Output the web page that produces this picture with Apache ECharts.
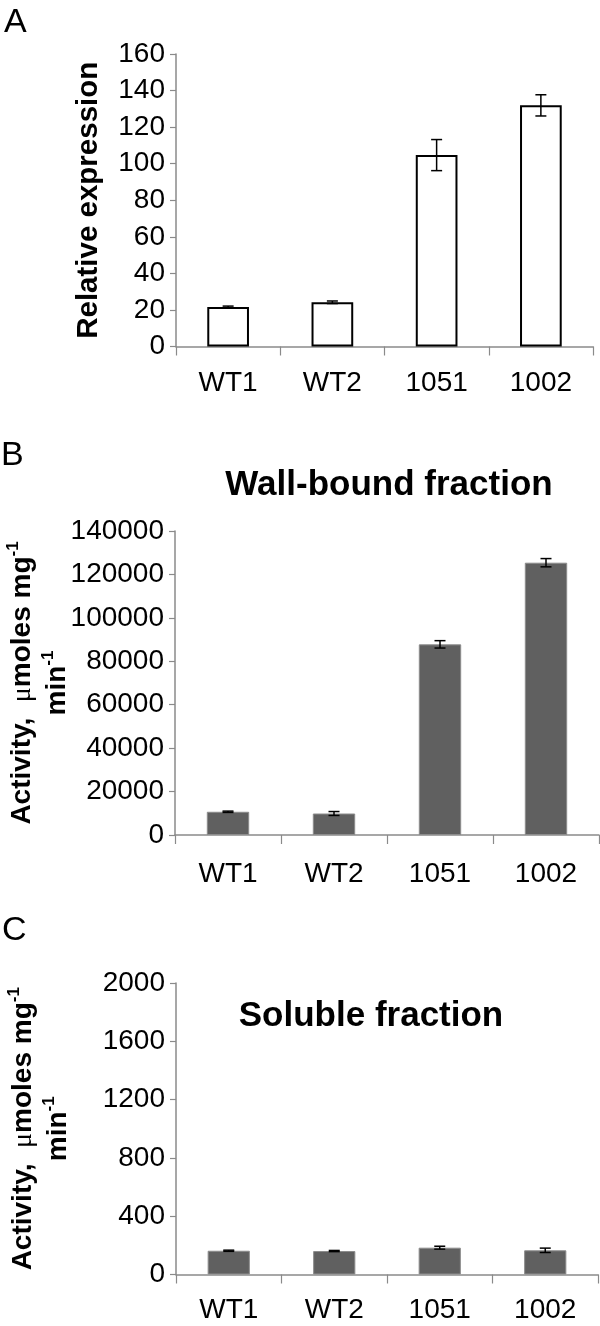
<!DOCTYPE html>
<html>
<head>
<meta charset="utf-8">
<script src="https://cdn.jsdelivr.net/npm/echarts/dist/echarts.min.js"></script>
<style>
html, body { margin: 0; padding: 0; background: #fff; }
#chart { width: 600px; height: 1326px; }
</style>
</head>
<body>
<div id="chart"></div>
<script>
// panel data
var categories = ['WT1', 'WT2', '1051', '1002'];

var exprMean = [21.6, 24.2, 104.7, 131.9];
var exprErr = [0.5, 0.7, 8.5, 5.8];

var wallMean = [10700, 9900, 87800, 125400];
var wallErr = [300, 900, 1700, 1900];

var solMean = [163, 161, 184, 166];
var solErr = [4, 4, 10, 15];

var FONT = '"Liberation Sans", Arial, Helvetica, sans-serif';
var AXIS_GREY = '#8a8a8a';

function errorRows(mean, err) {
    return categories.map(function(c, i) { return [i, mean[i], err[i]]; });
}

function errorBarItem(params, api) {
    var i = api.value(0);
    var top = api.coord([i, api.value(1) + api.value(2)]);
    var bot = api.coord([i, api.value(1) - api.value(2)]);
    var hw = 5.5;
    var st = { stroke: '#000', lineWidth: 1.5 };
    return {
        type: 'group',
        children: [
            { type: 'line', shape: { x1: top[0], y1: top[1], x2: bot[0], y2: bot[1] }, style: st },
            { type: 'line', shape: { x1: top[0] - hw, y1: top[1], x2: top[0] + hw, y2: top[1] }, style: st },
            { type: 'line', shape: { x1: bot[0] - hw, y1: bot[1], x2: bot[0] + hw, y2: bot[1] }, style: st }
        ]
    };
}

function xAxisFor(gridIndex, margin) {
    return {
        type: 'category',
        gridIndex: gridIndex,
        data: categories,
        axisLine: { lineStyle: { color: AXIS_GREY, width: 1.5 } },
        axisTick: { show: true, length: 9, lineStyle: { color: AXIS_GREY, width: 1.2 } },
        axisLabel: { color: '#000', fontSize: 28, fontFamily: FONT, margin: margin },
        splitLine: { show: false }
    };
}

function yAxisFor(gridIndex, max, interval, name, nameGap, rich) {
    var ax = {
        type: 'value',
        gridIndex: gridIndex,
        min: 0,
        max: max,
        interval: interval,
        axisLine: { show: true, lineStyle: { color: AXIS_GREY, width: 1.5 } },
        axisTick: { show: true, length: 6, lineStyle: { color: AXIS_GREY, width: 1.2 } },
        axisLabel: {
            color: '#000', fontSize: 28, fontFamily: FONT, margin: 11,
            formatter: function(v) { return String(v); }
        },
        splitLine: { show: false },
        name: name,
        nameLocation: 'middle',
        nameRotate: 90,
        nameGap: nameGap,
        nameMoveOverlap: false,
        nameTextStyle: {
            color: '#000', fontSize: 29.5, fontWeight: 'bold', fontFamily: FONT
        }
    };
    if (rich) {
        ax.nameTextStyle.fontSize = 28;
        ax.nameTextStyle.lineHeight = 35;
        ax.nameTextStyle.rich = {
            b: { fontSize: 28, fontWeight: 'bold', fontFamily: FONT, color: '#000', lineHeight: 35 },
            mu: { fontSize: 28, fontWeight: 'normal', fontFamily: '"Liberation Serif", serif', color: '#000', lineHeight: 35 },
            sup: { fontSize: 17, fontWeight: 'bold', fontFamily: FONT, color: '#000', lineHeight: 35, verticalAlign: 'top' }
        };
    }
    return ax;
}

var activityName = '{b|Activity,  }{mu|\u03bc}{b|moles mg}{sup|-1}\n{b|min}{sup|-1}';

var option = {
    animation: false,
    backgroundColor: '#fff',
    grid: [
        { left: 176, right: 7, top: 54, height: 292.5, outerBoundsMode: 'none' },
        { left: 175, right: 1, top: 531, height: 304, outerBoundsMode: 'none' },
        { left: 176, right: 2, top: 983, height: 291.5, outerBoundsMode: 'none' }
    ],
    xAxis: [xAxisFor(0, 23), xAxisFor(1, 25), xAxisFor(2, 22)],
    yAxis: [
        yAxisFor(0, 160, 20, 'Relative expression', 72, false),
        yAxisFor(1, 140000, 20000, activityName, 100, true),
        yAxisFor(2, 2000, 400, activityName, 100, true)
    ],
    series: [
        {
            type: 'bar', xAxisIndex: 0, yAxisIndex: 0, data: exprMean,
            barCategoryGap: '60%',
            itemStyle: { color: '#fff', borderColor: '#000', borderWidth: 2 }
        },
        {
            type: 'custom', xAxisIndex: 0, yAxisIndex: 0, data: errorRows(exprMean, exprErr),
            renderItem: errorBarItem, z: 5
        },
        {
            type: 'bar', xAxisIndex: 1, yAxisIndex: 1, data: wallMean,
            barCategoryGap: '60%',
            itemStyle: { color: '#606060', borderColor: '#8c8c8c', borderWidth: 1 }
        },
        {
            type: 'custom', xAxisIndex: 1, yAxisIndex: 1, data: errorRows(wallMean, wallErr),
            renderItem: errorBarItem, z: 5
        },
        {
            type: 'bar', xAxisIndex: 2, yAxisIndex: 2, data: solMean,
            barCategoryGap: '60%',
            itemStyle: { color: '#606060', borderColor: '#8c8c8c', borderWidth: 1 }
        },
        {
            type: 'custom', xAxisIndex: 2, yAxisIndex: 2, data: errorRows(solMean, solErr),
            renderItem: errorBarItem, z: 5
        }
    ],
    graphic: [
        { type: 'text', x: 4, y: 22.5, style: { text: 'A', fontSize: 34, fontFamily: FONT, fill: '#000', align: 'left', verticalAlign: 'middle' } },
        { type: 'text', x: 1, y: 456, style: { text: 'B', fontSize: 34, fontFamily: FONT, fill: '#000', align: 'left', verticalAlign: 'middle' } },
        { type: 'text', x: 2, y: 930.5, style: { text: 'C', fontSize: 34, fontFamily: FONT, fill: '#000', align: 'left', verticalAlign: 'middle' } },
        { type: 'text', x: 389, y: 485, style: { text: 'Wall-bound fraction', fontSize: 35, fontWeight: 'bold', fontFamily: FONT, fill: '#000', align: 'center', verticalAlign: 'middle' } },
        { type: 'text', x: 371, y: 1016, style: { text: 'Soluble fraction', fontSize: 35, fontWeight: 'bold', fontFamily: FONT, fill: '#000', align: 'center', verticalAlign: 'middle' } }
    ]
};

var chart = echarts.init(document.getElementById('chart'), null, { renderer: 'canvas' });
chart.setOption(option);
</script>
</body>
</html>
